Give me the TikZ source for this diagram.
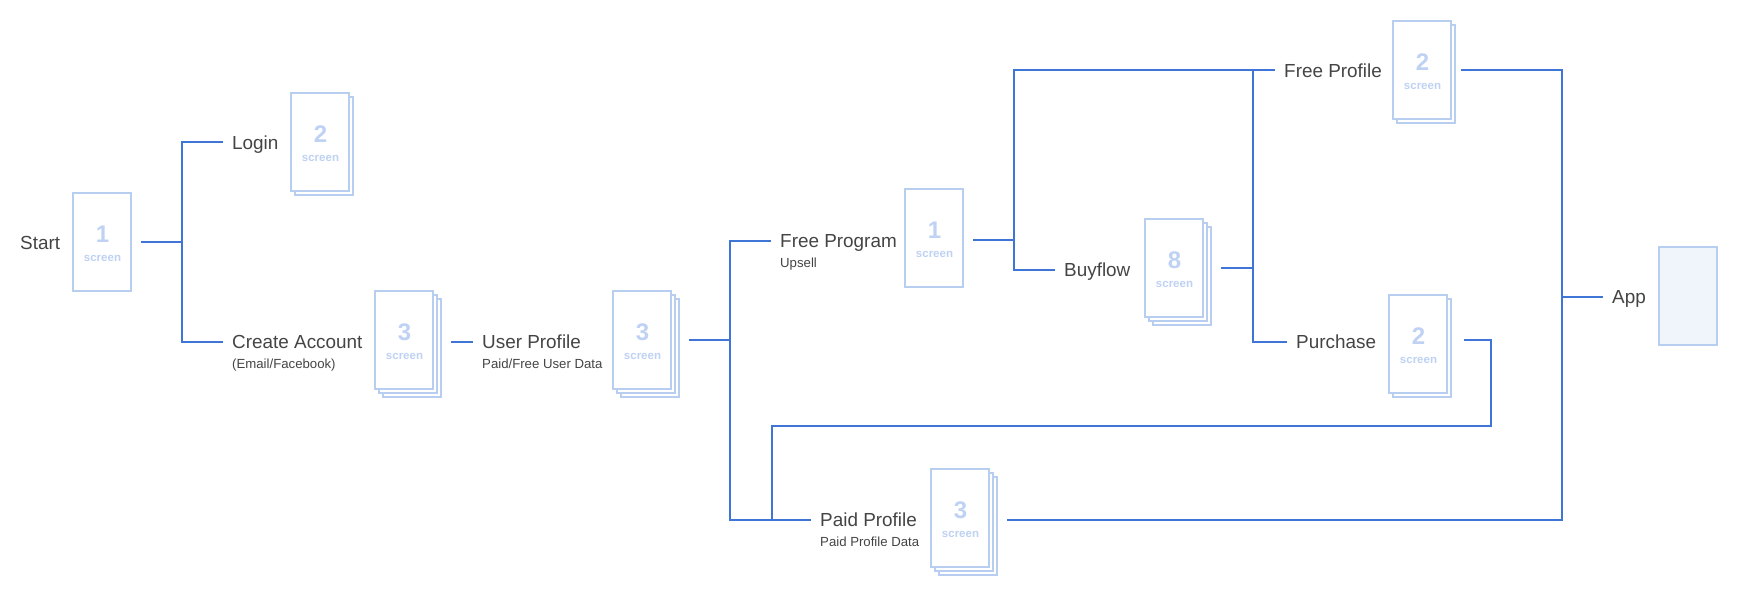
\documentclass[tikz,border=0pt]{standalone}
\usepackage{fontspec}
\setmainfont{Liberation Sans}
\definecolor{flowblue}{HTML}{3F75D6}
\definecolor{pageblue}{HTML}{B8CEF0}
\definecolor{numblue}{HTML}{BFD2F3}
\definecolor{appfill}{HTML}{F0F5FC}
\definecolor{labelgrey}{HTML}{444444}
\newcommand{\pagetext}[1]{\rule{0pt}{20pt}\kern1pt{\fontsize{24}{26}\selectfont\bfseries #1}\\[6.5pt]\kern1pt{\fontsize{11.5}{13}\selectfont\bfseries screen}}
\tikzset{
    pagebox/.style={draw=pageblue, fill=white, line width=2.2pt, minimum width=58pt, minimum height=98pt, inner sep=0pt, outer sep=0pt, align=center, text=numblue},
    flowline/.style={draw=flowblue, line width=2.2pt},
    mainlabel/.style={anchor=west, inner sep=0pt, text=labelgrey, font=\fontsize{18.9}{24}\selectfont, text height=17pt, text depth=4pt},
    sublabel/.style={anchor=base west, inner sep=0pt, text=labelgrey, font=\fontsize{13.2}{16}\selectfont}
}
\begin{document}
\begin{tikzpicture}[x=1pt, y=-1pt]
    \useasboundingbox (0,0) rectangle (1738,596);

    % labels
    \node[mainlabel, text height=19pt] (start) at (20,242) {Start};
    \node[mainlabel, text height=19pt] (login) at (232,142) {Login};
    \node[mainlabel] (create) at (232,342) {Create Account};
    \node[sublabel] (createsub) at (232,368) {(Email/Facebook)};
    \node[mainlabel] (user) at (482,342) {User Profile};
    \node[sublabel] (usersub) at (482,368) {Paid/Free User Data};
    \node[mainlabel] (program) at (780,241) {Free Program};
    \node[sublabel] (programsub) at (780,268) {Upsell};
    \node[mainlabel] (buyflow) at (1064,270) {Buyflow};
    \node[mainlabel, text height=19pt] (freeprofile) at (1284,70) {Free Profile};
    \node[mainlabel] (purchase) at (1296,342) {Purchase};
    \node[mainlabel] (paid) at (820,520) {Paid Profile};
    \node[sublabel] (paidsub) at (820,546) {Paid Profile Data};
    \node[mainlabel] (app) at (1612,297) {App};

    % pages, back sheets first
    \node[pagebox] (startpage) at (102,242) {\pagetext{1}};

    \node[pagebox] (loginback) at (324,146) {};
    \node[pagebox] (loginpage) at (320,142) {\pagetext{2}};

    \node[pagebox] (createbackb) at (412,348) {};
    \node[pagebox] (createbacka) at (408,344) {};
    \node[pagebox] (createpage) at (404,340) {\pagetext{3}};

    \node[pagebox] (userbackb) at (650,348) {};
    \node[pagebox] (userbacka) at (646,344) {};
    \node[pagebox] (userpage) at (642,340) {\pagetext{3}};

    \node[pagebox] (programpage) at (934,238) {\pagetext{1}};

    \node[pagebox] (buybackb) at (1182,276) {};
    \node[pagebox] (buybacka) at (1178,272) {};
    \node[pagebox] (buypage) at (1174,268) {\pagetext{8}};

    \node[pagebox] (freeback) at (1426,74) {};
    \node[pagebox] (freepage) at (1422,70) {\pagetext{2}};

    \node[pagebox] (purchaseback) at (1422,348) {};
    \node[pagebox] (purchasepage) at (1418,344) {\pagetext{2}};

    \node[pagebox] (paidbackb) at (968,526) {};
    \node[pagebox] (paidbacka) at (964,522) {};
    \node[pagebox] (paidpage) at (960,518) {\pagetext{3}};

    \node[pagebox, fill=appfill] (apppage) at (1688,296) {};

    % junctions
    \coordinate (startjoin) at (182,242);
    \coordinate (userjoin) at (730,340);
    \coordinate (paidjoin) at (772,520);
    \coordinate (backtop) at (1491,426);
    \coordinate (backside) at (1491,340);
    \coordinate (programjoin) at (1014,240);
    \coordinate (buyjoin) at (1253,268);
    \coordinate (apptop) at (1562,70);
    \coordinate (appjoin) at (1562,297);
    \coordinate (appbottom) at (1562,520);

    % connectors
    \draw[flowline, shorten <=10pt] (startpage.east) -- (startjoin);
    \draw[flowline, shorten >=9pt] (startjoin) |- (login.west);
    \draw[flowline, shorten >=9pt] (startjoin) |- (create.west);
    \draw[flowline, shorten <=10pt, shorten >=9pt] (createbackb.east |- user.west) -- (user.west);
    \draw[flowline, shorten <=10pt] (userbackb.east |- userjoin) -- (userjoin);
    \draw[flowline, shorten >=9pt] (userjoin) |- (program.west);
    \draw[flowline, shorten >=9pt] (userjoin) |- (paid.west);
    \draw[flowline, shorten >=13pt] (paidjoin) |- (backtop) -- (backside) -- (purchaseback.east |- backside);
    \draw[flowline, shorten <=10pt] (programpage.east |- programjoin) -- (programjoin);
    \draw[flowline, shorten >=9pt] (programjoin) |- (freeprofile.west);
    \draw[flowline, shorten >=9pt] (programjoin) |- (buyflow.west);
    \draw[flowline, shorten <=10pt] (buybackb.east |- buyjoin) -- (buyjoin);
    \draw[flowline] (buyjoin |- freeprofile.west) -- (buyjoin);
    \draw[flowline, shorten >=9pt] (buyjoin) |- (purchase.west);
    \draw[flowline, shorten <=6pt, shorten >=10pt] (freeback.east |- apptop) -- (apptop) -- (appbottom) -- (paidbackb.east |- appbottom);
    \draw[flowline, shorten >=9pt] (appjoin) -- (app.west);
\end{tikzpicture}
\end{document}
